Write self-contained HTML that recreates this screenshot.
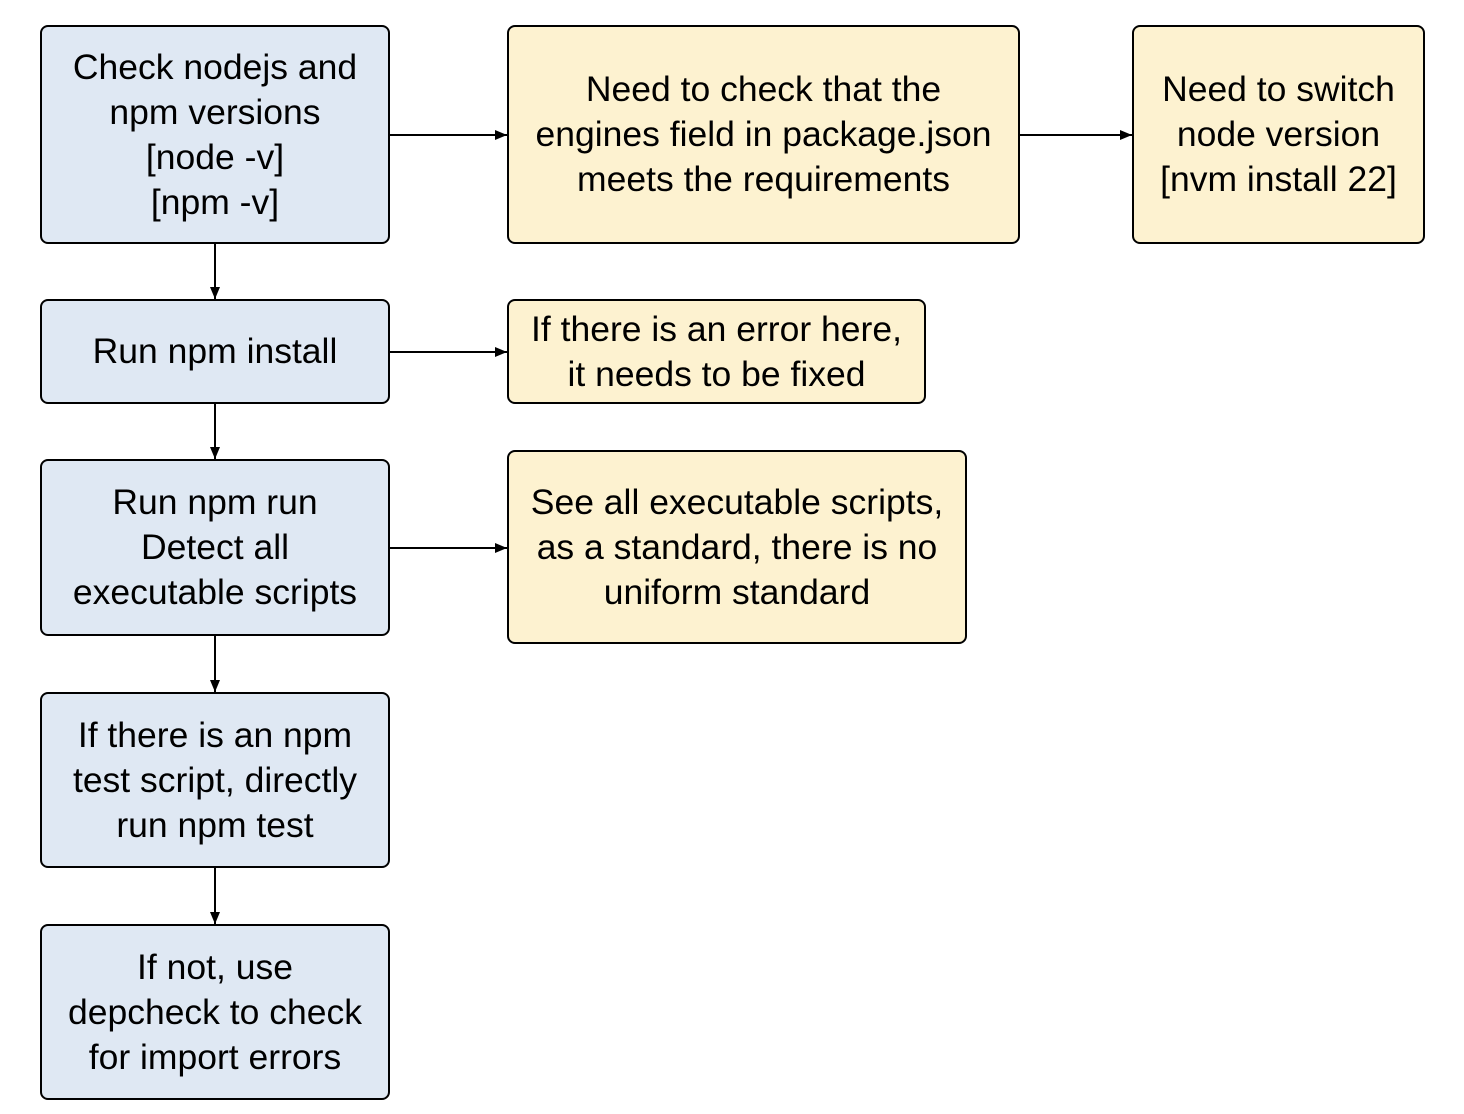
<!DOCTYPE html>
<html><head><style>
body{margin:0;width:1464px;height:1114px;background:#fff;position:relative;font-family:"Liberation Sans","Noto Sans CJK SC",sans-serif;}
.b{position:absolute;box-sizing:border-box;border:2px solid #000;border-radius:8px;display:flex;align-items:center;justify-content:center;text-align:center;font-size:35.5px;line-height:45px;color:#000;white-space:nowrap;}
.bl{background:#dfe8f3;}
.y{background:#fdf2d0;}
svg{position:absolute;left:0;top:0;}
</style></head><body>
<div class="b bl" style="left:40px;top:25px;width:350px;height:219px">Check nodejs and<br>npm versions<br>[node -v]<br>[npm -v]</div>
<div class="b bl" style="left:40px;top:299px;width:350px;height:105px">Run npm install</div>
<div class="b bl" style="left:40px;top:459px;width:350px;height:177px">Run npm run<br>Detect all<br>executable scripts</div>
<div class="b bl" style="left:40px;top:692px;width:350px;height:176px">If there is an npm<br>test script, directly<br>run npm test</div>
<div class="b bl" style="left:40px;top:924px;width:350px;height:176px">If not, use<br>depcheck to check<br>for import errors</div>
<div class="b y" style="left:507px;top:25px;width:513px;height:219px">Need to check that the<br>engines field in package.json<br>meets the requirements</div>
<div class="b y" style="left:1132px;top:25px;width:293px;height:219px">Need to switch<br>node version<br>[nvm install 22]</div>
<div class="b y" style="left:507px;top:299px;width:419px;height:105px">If there is an error here,<br>it needs to be fixed</div>
<div class="b y" style="left:507px;top:450px;width:460px;height:194px">See all executable scripts,<br>as a standard, there is no<br>uniform standard</div>
<svg width="1464" height="1114">
<defs><marker id="a" markerWidth="12" markerHeight="12" refX="12" refY="6" orient="auto" markerUnits="userSpaceOnUse"><path d="M0,1 L12,6 L0,11 z" fill="#000"/></marker></defs>
<g stroke="#000" stroke-width="2" fill="none">
<line x1="390" y1="135" x2="507" y2="135" marker-end="url(#a)"/>
<line x1="1020" y1="135" x2="1132" y2="135" marker-end="url(#a)"/>
<line x1="390" y1="352" x2="507" y2="352" marker-end="url(#a)"/>
<line x1="390" y1="548" x2="507" y2="548" marker-end="url(#a)"/>
<line x1="215" y1="244" x2="215" y2="299" marker-end="url(#a)"/>
<line x1="215" y1="404" x2="215" y2="459" marker-end="url(#a)"/>
<line x1="215" y1="636" x2="215" y2="692" marker-end="url(#a)"/>
<line x1="215" y1="868" x2="215" y2="924" marker-end="url(#a)"/>
</g></svg>
</body></html>
